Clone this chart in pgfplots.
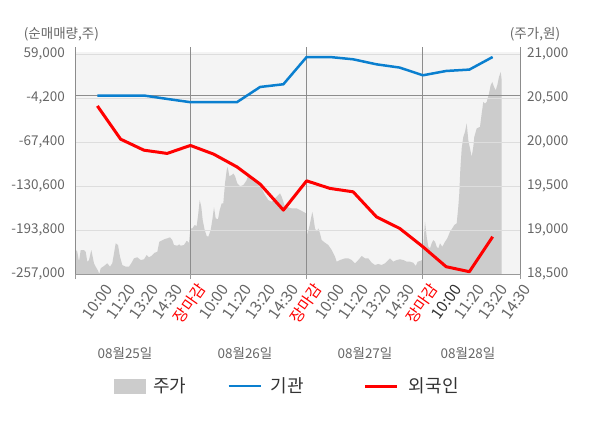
\documentclass[border=0pt]{standalone}
\usepackage{pgfplots}
\pgfplotsset{compat=1.18}
\usepackage{fontspec}
\setmainfont{Noto Sans CJK KR}
\definecolor{bgc}{HTML}{F4F4F4}
\definecolor{areac}{HTML}{CCCCCC}
\definecolor{gridc}{HTML}{DDDDDD}
\definecolor{axc}{HTML}{999999}
\definecolor{divc}{HTML}{8C8C8C}
\definecolor{txt}{HTML}{666666}
\definecolor{dtxt}{HTML}{333333}
\definecolor{bluec}{HTML}{0A7FCF}
\definecolor{redc}{HTML}{FF0000}
\newcommand{\tfont}{\fontsize{13.5}{16}\selectfont}
\newcommand{\xfont}{\fontsize{15.5}{18}\selectfont}
\pgfplotsset{
  arealegend/.style={legend image code/.code={\fill[##1] (0pt,-7.5pt) rectangle (32pt,7.5pt);}},
  linelegend/.style={legend image code/.code={\draw[##1] (0pt,0pt) -- (32pt,0pt);}},
}

\pgfplotstableread{
x p
0 18773
1.3 18753
3 18640
4.7 18773
8 18773
9.7 18753
11.3 18640
13 18659
15.3 18773
18 18622
19.7 18583
22 18538
23.3 18500
24.7 18565
28 18591
31.3 18622
34 18583
36.3 18622
38 18735
39.7 18849
42 18830
44 18697
46.3 18602
49.7 18583
53 18583
55.3 18622
58 18678
61.3 18690
64.7 18659
68 18667
70.7 18716
73 18690
75.3 18705
78.7 18742
81.3 18753
83.3 18867
85.3 18878
88 18894
91.3 18906
94 18917
96.3 18886
98 18830
101.3 18822
103.3 18837
104.7 18822
108 18830
110.7 18878
113 18856
114.3 19019
116.3 19019
118.7 19057
120.7 19045
122.3 19190
123.7 19341
125.3 19265
126.7 19114
128.7 19000
130.7 18932
132.3 18924
134.7 19000
136.3 19114
138 19258
139.7 19133
142 19122
143.7 19227
145.7 19303
147.3 19303
149 19531
150.7 19682
151.7 19719
153.3 19614
155.7 19625
157.3 19644
159 19614
161.3 19531
164 19500
167.3 19511
170.7 19568
172.3 19625
175.7 19588
179 19549
182.3 19531
185.7 19474
189 19398
192.3 19341
195.7 19322
199 19360
202.3 19398
204 19417
205.7 19378
209 19265
212.3 19258
215.7 19247
220.7 19247
224 19227
227.3 19208
230 19190
231.3 18943
233.3 19038
235 19133
236.3 19208
237.3 19151
239 19019
240.7 18981
242.3 19019
244 18962
245.7 18886
249 18856
252.3 18830
255.7 18773
259 18697
260.7 18640
264 18659
269 18678
272.3 18678
275.7 18659
279 18622
282.3 18659
285.7 18705
289 18678
292.3 18678
295.7 18628
299 18602
302.3 18614
305.7 18602
309 18622
312.3 18659
314 18678
317.3 18640
320.7 18659
324 18667
327.3 18659
330.7 18640
334 18640
337.3 18628
339.7 18591
341.7 18640
344 18648
346.3 18659
347.7 18886
349 19094
350.7 18924
352.3 18810
354 18792
355.7 18849
357.3 18886
359 18867
360.7 18810
362.3 18792
364 18849
366.3 18810
369 18867
371.3 18906
374 18981
376.3 19019
378.3 19057
380.7 19076
382.3 19265
383.3 19417
384.3 19682
385.7 19928
387.3 20060
389 20117
390.7 20213
392.3 20023
394 19928
395.7 19833
397.3 19947
398.3 20060
400.7 20156
404 20174
405.7 20326
407.3 20458
409 20440
410.7 20458
413 20553
414.7 20648
416.3 20685
418 20628
419.7 20591
421.3 20648
423 20742
424.7 20799
425.7 20705
}\pricetab

\pgfplotstableread{
x v
21.39 -300
44.64 -300
67.89 -300
91.14 -5200
114.39 -9900
137.64 -9900
160.89 -9900
184.14 12000
207.39 15900
230.64 55100
253.89 55100
277.14 51800
300.39 44600
323.64 39900
346.89 28800
370.14 35000
393.39 37000
416.64 55100
}\insttab

\pgfplotstableread{
x v
21.39 -15300
44.64 -63100
67.89 -78900
91.14 -83600
114.39 -72100
137.64 -84600
160.89 -102900
184.14 -127700
207.39 -165100
230.64 -123000
253.89 -133900
277.14 -138800
300.39 -174700
323.64 -191400
346.89 -217800
370.14 -246500
393.39 -253700
416.64 -203400
}\fortab

\begin{document}
\begin{tikzpicture}[x=1pt,y=1pt]
\useasboundingbox (0,0) rectangle (600,-428);

\begin{axis}[
  at={(76pt,-274pt)}, anchor=south west,
  width=444pt, height=227pt, scale only axis,
  xmin=0, xmax=444, ymin=18500, ymax=21083,
  axis x line=none, axis y line*=right,
  axis line style={axc, line width=1pt, -},
  scaled y ticks=false, scaled x ticks=false,
  ytick={18500,19000,19500,20000,20500,21000},
  yticklabels={{18,500},{19,000},{19,500},{20,000},{20,500},{21,000}},
  major tick length=0pt,
  yticklabel style={font=\tfont, text=txt, anchor=west, inner sep=0pt, xshift=7pt},
  clip=false,
]
\fill[bgc] (axis cs:0,18500) rectangle (axis cs:444,21030);
\addplot[fill=areac, draw=none] table[x=x, y=p] {\pricetab} \closedcycle;
\end{axis}

\begin{axis}[
  at={(76pt,-274pt)}, anchor=south west,
  width=444pt, height=227pt, scale only axis,
  xmin=0, xmax=444, ymin=-257000, ymax=69486,
  axis y line*=left, axis x line*=bottom,
  axis line style={axc, line width=1pt, -},
  scaled y ticks=false, scaled x ticks=false,
  ytick={-257000,-193800,-130600,-67400,-4200,59000},
  yticklabels={{-257,000},{-193,800},{-130,600},{-67,400},{-4,200},{59,000}},
  ymajorgrids, major grid style={gridc, line width=1pt},
  yticklabel style={font=\tfont, text=txt, anchor=east, inner sep=0pt, xshift=-11pt},
  xtick={21.39,44.64,67.89,91.14,114.39,137.64,160.89,184.14,207.39,230.64,253.89,277.14,300.39,323.64,346.89,370.14,393.39,416.64,439.89},
  xticklabels={10:00,11:20,13:20,14:30,\textcolor{redc}{장마감},10:00,11:20,13:20,14:30,\textcolor{redc}{장마감},10:00,11:20,13:20,14:30,\textcolor{redc}{장마감},\textcolor{dtxt}{10:00},11:20,13:20,14:30},
  xticklabel style={font=\xfont, text=txt, rotate=55, anchor=east, inner sep=0pt, xshift=-3pt, yshift=-16pt},
  major tick length=0pt,
  extra x ticks={0,114.39,230.64,346.89,444},
  extra x tick labels={},
  extra x tick style={grid=major, major tick length=5pt, tick align=outside,
     major grid style={divc, line width=1pt}, tick style={axc, line width=1pt}},
  extra y ticks={0}, extra y tick labels={},
  extra y tick style={grid=major, major grid style={divc, line width=1pt}},
  clip=false,
  legend columns=3,
  linelegend,
  legend style={at={(0.0856,-0.4934)}, anchor=west, draw=none, fill=none, inner sep=0pt,
     nodes={inner sep=0pt},
     font=\fontsize{18}{21}\selectfont, text=dtxt,
     /tikz/every odd column/.style={},
     /tikz/every even column/.style={},
     /tikz/column 1/.style={column sep=7pt},
     /tikz/column 2/.style={column sep=41pt},
     /tikz/column 3/.style={column sep=9pt},
     /tikz/column 4/.style={column sep=60pt},
     /tikz/column 5/.style={column sep=10pt}},
]
\addlegendimage{arealegend, fill=areac, draw=none}
\addlegendentry{주가}
\addplot[bluec, line width=2.5pt, line join=round] table[x=x, y=v] {\insttab};
\addlegendentry{기관}
\addplot[redc, line width=3pt, line join=round] table[x=x, y=v] {\fortab};
\addlegendentry{외국인}
\end{axis}

\node[font=\tfont, text=txt] at (61.4,-34) {(순매매량,주)};
\node[font=\tfont, text=txt] at (535,-34) {(주가,원)};
\node[font=\tfont, text=txt] at (125,-353) {08월25일};
\node[font=\tfont, text=txt] at (245,-353) {08월26일};
\node[font=\tfont, text=txt] at (365,-353) {08월27일};
\node[font=\tfont, text=txt] at (468,-353) {08월28일};
\end{tikzpicture}
\end{document}
